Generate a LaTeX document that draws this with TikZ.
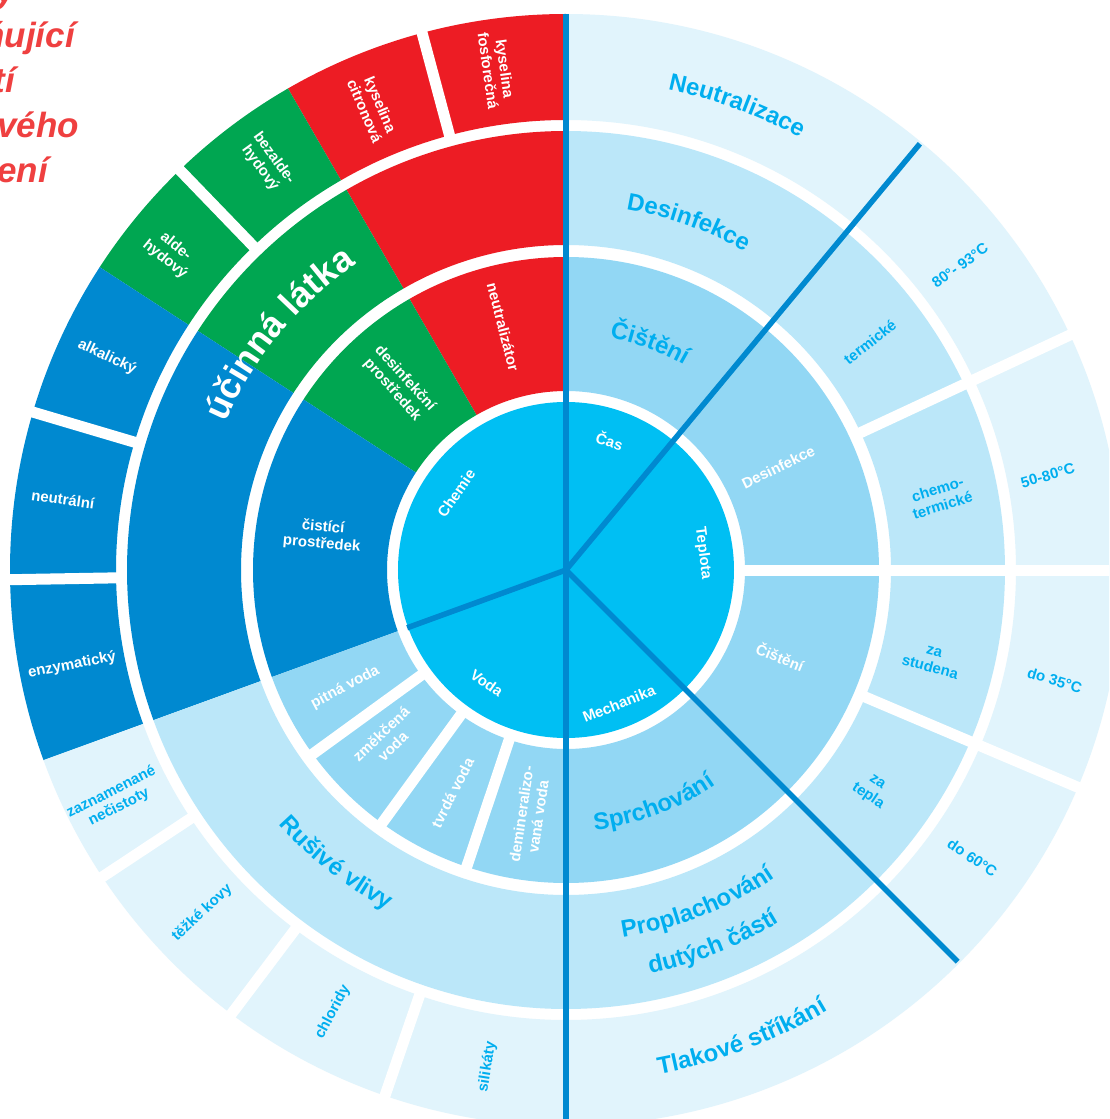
\documentclass[tikz,border=0pt]{standalone}
\usepackage{fontspec}
\setmainfont{Liberation Sans}
\usepackage{tikz}
\usetikzlibrary{decorations.text}

\definecolor{innerblue}{HTML}{00BFF3}
\definecolor{ringtwo}{HTML}{92D7F4}
\definecolor{ringthree}{HTML}{BBE7F9}
\definecolor{ringfour}{HTML}{E1F4FC}
\definecolor{darkblue}{HTML}{0089D0}
\definecolor{chemred}{HTML}{ED1C24}
\definecolor{chemgreen}{HTML}{00A651}
\definecolor{txtblue}{HTML}{00AEEF}
\definecolor{titlered}{HTML}{EF4040}

\newcommand{\lblsmall}{\fontsize{15}{17}\selectfont\bfseries}
\newcommand{\bigcyan}{\fontsize{24}{28}\selectfont\bfseries\color{txtblue}}
\newcommand{\hugewhite}{\fontsize{36}{40}\selectfont\bfseries\color{white}}

% ring piece: colour, inner r, outer r, start angle, end angle
\newcommand{\ringpart}[5]{%
  \fill[#1] (#4:#2) arc[start angle=#4, end angle=#5, radius=#2]
    -- (#5:#3) arc[start angle=#5, end angle=#4, radius=#3] -- cycle;}

% curved text: font, baseline r, start angle, end angle, text
\newcommand{\arclabel}[5]{%
  \path[decorate, decoration={text along path, text align=center,
    text={|#1|#5}}] (#3:#2) arc[start angle=#3, end angle=#4, radius=#2];}

\begin{document}
\begin{tikzpicture}[x=1pt, y=1pt,
    whitelbl/.style={font=\lblsmall, text=white, align=center, inner sep=0pt},
    cyanlbl/.style={font=\lblsmall, text=txtblue, align=center, inner sep=0pt},
    gap/.style={white, line width=11pt},
    axisline/.style={darkblue, line width=5.5pt},
    titleline/.style={font=\fontsize{35}{42}\selectfont\bfseries\itshape,
      text=titlered, anchor=base east, inner sep=0pt}]
  \useasboundingbox (-566,-549) rectangle (543,570);
  \clip (-566,-549) rectangle (543,570);
  \fill[white] (-566,-549) rectangle (543,570);

  % outer ring
  \ringpart{ringfour}{450}{556}{-90}{90}
  \ringpart{chemred}{450}{556}{90}{120}
  \ringpart{chemgreen}{450}{556}{120}{147}
  \ringpart{darkblue}{450}{556}{147}{200}
  \ringpart{ringfour}{450}{556}{200}{270}
  % third ring
  \ringpart{ringthree}{325}{439}{-90}{90}
  \ringpart{chemred}{325}{439}{90}{120}
  \ringpart{chemgreen}{325}{439}{120}{147}
  \ringpart{darkblue}{325}{439}{147}{200}
  \ringpart{ringthree}{325}{439}{200}{270}
  % second ring
  \ringpart{ringtwo}{179}{313}{-90}{90}
  \ringpart{chemred}{179}{313}{90}{120}
  \ringpart{chemgreen}{179}{313}{120}{147}
  \ringpart{darkblue}{179}{313}{147}{200}
  \ringpart{ringtwo}{179}{313}{200}{270}
  % centre
  \fill[innerblue] (0,0) circle (168);

  % white gaps
  \foreach \a in {105,134,163.5,181,213.5,233,251}
    \draw[gap] (\a:444) -- (\a:560);
  \foreach \a in {216,234,251.5}
    \draw[gap] (\a:174) -- (\a:319);
  \draw[gap] (0:174) -- (0:560);
  \foreach \a in {25,-23}
    \draw[gap] (\a:319) -- (\a:560);

  % dark lines
  \coordinate (c) at (0,0);
  \coordinate (top) at (90:556);
  \coordinate (bottom) at (270:556);
  \coordinate (upright) at (50.3:554);
  \coordinate (downright) at (-45:554);
  \coordinate (left) at (200:169);
  \draw[axisline] (top) -- (bottom);
  \draw[axisline] (c) -- (upright);
  \draw[axisline] (c) -- (downright);
  \draw[axisline] (c) -- (left);

  % centre labels
  \node[whitelbl, rotate=-19] (cas) at (71.3:137) {Čas};
  \node[whitelbl, rotate=-83] (teplota) at (7:138) {Teplota};
  \node[whitelbl, rotate=21.6] (mechanika) at (-68.4:144) {Mechanika};
  \node[whitelbl, rotate=55] (chemie) at (145:134) {Chemie};
  \node[whitelbl, rotate=-35] (voda) at (235:138) {Voda};

  % right half
  \arclabel{\bigcyan}{236.5}{94.7}{44.7}{Čištění}
  \node[whitelbl, rotate=25.9] (desinf) at (25.9:236) {Desinfekce};
  \node[whitelbl, rotate=-22] (cisteni) at (-22:231) {Čištění};
  \arclabel{\bigcyan}{261.6}{-94.4}{-44.4}{Sprchování}

  \arclabel{\bigcyan}{365.4}{95.6}{45.6}{Desinfekce}
  \node[cyanlbl, rotate=38] (termicke) at (36.9:380) {termické};
  \node[cyanlbl, rotate=17] (chemoterm) at (11:381) {chemo-\\termické};
  \node[cyanlbl, rotate=-15] (studena) at (-13.8:377) {za\\studena};
  \node[cyanlbl, rotate=-34] (tepla) at (-35.7:377) {za\\tepla};
  \arclabel{\bigcyan}{372}{-93.5}{-43.5}{Proplachování}
  \arclabel{\bigcyan}{412}{-93.5}{-43.5}{dutých částí}

  \arclabel{\bigcyan}{491.4}{94.8}{44.8}{Neutralizace}
  \node[cyanlbl, rotate=36] (t80) at (37.7:498) {80°- 93°C};
  \node[cyanlbl, rotate=16] (t50) at (11.1:491) {50-80°C};
  \node[cyanlbl, rotate=-17] (t35) at (-12.7:501) {do 35°C};
  \node[cyanlbl, rotate=-34] (t60) at (-35.3:498) {do 60°C};
  \arclabel{\bigcyan}{512.6}{-94.4}{-44.4}{Tlakové stříkání}

  % left half
  \node[whitelbl, rotate=-75.5] (neutr) at (104.5:251) {neutralizátor};
  \node[whitelbl, rotate=-48] (desprost) at (132:250) {desinfekční\\prostředek};
  \node[whitelbl, rotate=-5] (cistprost) at (172:246) {čistící\\prostředek};
  \arclabel{\hugewhite}{371}{170.5}{110.5}{účinná látka}

  \node[whitelbl, rotate=-82] (fosf) at (97.9:505) {kyselina\\fosforečná};
  \node[whitelbl, rotate=-67] (citr) at (112.7:501) {kyselina\\citronová};
  \node[whitelbl, rotate=-54] (bezald) at (126.3:505) {bezalde-\\hydový};
  \node[whitelbl, rotate=-39] (ald) at (141.3:507) {alde-\\hydový};
  \node[whitelbl, rotate=-25] (alk) at (155.1:506) {alkalický};
  \node[whitelbl, rotate=-8] (neutral) at (172:508) {neutrální};
  \node[whitelbl, rotate=11] (enzym) at (190.9:503) {enzymatický};

  \arclabel{\bigcyan}{383.6}{206.9}{256.9}{Rušivé vlivy}
  \node[cyanlbl, rotate=27] (necist) at (207:506) {zaznamenané\\nečistoty};
  \node[cyanlbl, rotate=43] (kovy) at (223.3:500) {těžké kovy};
  \node[cyanlbl, rotate=62] (chlor) at (242.2:500) {chloridy};
  \node[cyanlbl, rotate=81] (silik) at (261:503) {silikáty};

  \node[whitelbl, rotate=28] (pitna) at (208:250) {pitná voda};
  \node[whitelbl, rotate=43.5] (zmekc) at (223.5:247) {změkčená\\voda};
  \node[whitelbl, rotate=63] (tvrda) at (243:250) {tvrdá voda};
  \node[whitelbl, rotate=81.6] (demin) at (261.6:248) {demineralizo-\\vaná voda};

  % title, cut by the page edge
  \node[titleline] (title1) at (-550,567) {Faktory};
  \node[titleline] (title2) at (-491,522) {ovlivňující};
  \node[titleline] (title3) at (-551,477) {účinnost mytí};
  \node[titleline] (title4) at (-487,432) {strojového};
  \node[titleline] (title5) at (-518,387) {ošetření};
\end{tikzpicture}
\end{document}
